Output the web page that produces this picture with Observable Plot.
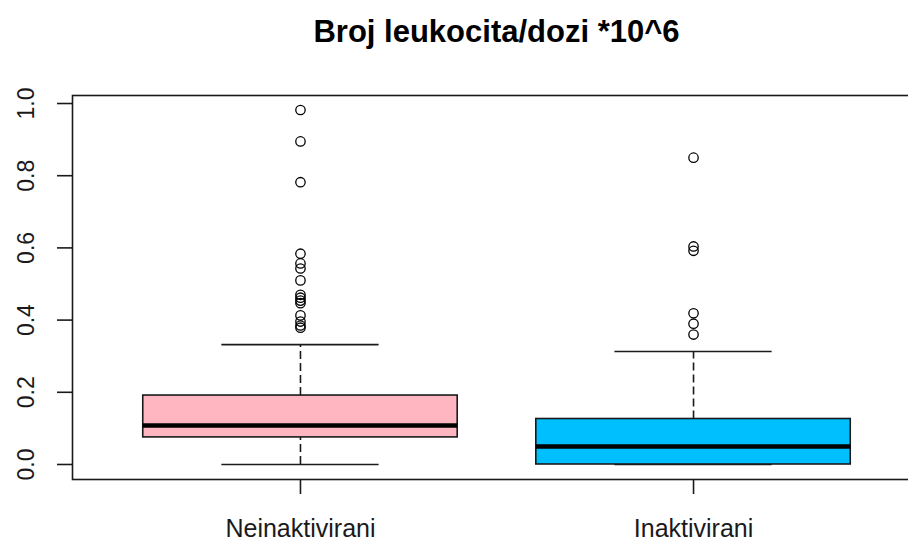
<!DOCTYPE html>
<html>
<head>
<meta charset="utf-8">
<script src="https://cdn.jsdelivr.net/npm/d3@7"></script>
<script src="https://cdn.jsdelivr.net/npm/@observablehq/plot@0.6"></script>
<style>
  html, body { margin: 0; padding: 0; background: #fff; overflow: hidden; }
  #chart svg { display: block; }
</style>
</head>
<body>
<div id="chart"></div>
<script>
// ---- data ----
const titleText = "Broj leukocita/dozi *10^6";
const categories = ["Neinaktivirani", "Inaktivirani"];
const boxColors = ["#FFB6C1", "#00BFFF"];
const lowerWhisker = [0.0, 0.0];
const q1 = [0.075, 0.0];
const median = [0.108, 0.05];
const q3 = [0.191, 0.126];
const upperWhisker = [0.332, 0.313];
const outliersNeinaktivirani = [0.982, 0.895, 0.782, 0.584, 0.557, 0.543, 0.51, 0.47, 0.462, 0.454, 0.447, 0.413, 0.396, 0.385, 0.379];
const outliersInaktivirani = [0.85, 0.604, 0.592, 0.419, 0.39, 0.36];
const yTicks = [0, 0.2, 0.4, 0.6, 0.8, 1.0];

// ---- tables built from the arrays ----
const boxes = categories.map((c, i) => ({
  cat: c, pos: i + 1, color: boxColors[i],
  lo: lowerWhisker[i], q1: q1[i], med: median[i], q3: q3[i], hi: upperWhisker[i]
}));
const outliers = [
  ...outliersNeinaktivirani.map(v => ({pos: 1, v})),
  ...outliersInaktivirani.map(v => ({pos: 2, v}))
];
const positions = boxes.map(d => d.pos);

const ink = "#1a1a1a";
const chart = Plot.plot({
  width: 908,
  height: 541,
  marginLeft: 72,
  marginRight: 0,
  marginTop: 95,
  marginBottom: 62,
  style: {fontFamily: "'Liberation Sans', Arial, sans-serif", background: "#fff", color: ink},
  x: {type: "linear", domain: [0.42, 2.58], range: [72, 921], axis: null},
  y: {domain: [-0.0416, 1.0222], range: [479, 95], axis: null},
  marks: [
    // whiskers (dashed)
    Plot.ruleX(boxes, {x: "pos", y1: "q3", y2: "hi", stroke: ink, strokeWidth: 1.6, strokeDasharray: "8,4"}),
    Plot.ruleX(boxes, {x: "pos", y1: "lo", y2: "q1", stroke: ink, strokeWidth: 1.6, strokeDasharray: "8,4"}),
    // staples
    Plot.ruleY(boxes, {y: "hi", x1: d => d.pos - 0.2, x2: d => d.pos + 0.2, stroke: ink, strokeWidth: 1.6}),
    Plot.ruleY(boxes, {y: "lo", x1: d => d.pos - 0.2, x2: d => d.pos + 0.2, stroke: ink, strokeWidth: 1.6}),
    // boxes
    Plot.rect(boxes, {x1: d => d.pos - 0.4, x2: d => d.pos + 0.4, y1: "q1", y2: "q3", fill: "color", stroke: ink, strokeWidth: 1.6}),
    // medians
    Plot.ruleY(boxes, {y: "med", x1: d => d.pos - 0.4, x2: d => d.pos + 0.4, stroke: "#000", strokeWidth: 4.5}),
    // outliers
    Plot.dot(outliers, {x: "pos", y: "v", r: 4.7, stroke: "#000", fill: "none", strokeWidth: 1.3}),
    // frame
    Plot.frame({stroke: ink, strokeWidth: 1.6, insetRight: -14}),
    // y axis ticks and rotated labels
    Plot.axisY({ticks: yTicks, tickSize: 15, tickFormat: () => "", label: null, stroke: ink, strokeWidth: 1.6}),
    Plot.text(yTicks, {y: d => d, text: d => d.toFixed(1), frameAnchor: "left", dx: -39, rotate: -90,
      textAnchor: "middle", lineAnchor: "bottom", fontSize: 23, fill: ink}),
    // x axis ticks and labels
    Plot.axisX({ticks: positions, tickSize: 15, tickPadding: 25, label: null, fontSize: 25,
      tickFormat: p => categories[p - 1], stroke: ink, strokeWidth: 1.6, fill: ink}),
    // title
    Plot.text([titleText], {frameAnchor: "top", dx: 6, dy: -54, lineAnchor: "bottom",
      fontSize: 31, fontWeight: "bold", fill: "#000"})
  ]
});
document.getElementById("chart").appendChild(chart);
</script>
</body>
</html>
